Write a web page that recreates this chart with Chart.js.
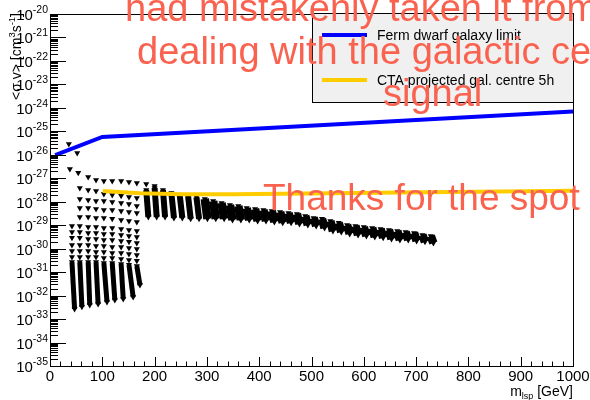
<!DOCTYPE html>
<html lang="en">
<head>
    <meta charset="UTF-8">
    <title>sigma v limits vs m_lsp</title>
    <script src="https://cdn.jsdelivr.net/npm/chart.js"></script>
    <style>
        html, body { margin: 0; padding: 0; background: #fff; }
        #wrap { width: 590px; height: 400px; }
    </style>
</head>
<body>
<div id="wrap"><canvas id="limitChart" width="590" height="400"></canvas></div>
<script>
// all values are log10(<sigma v> / cm^3 s^-1), masses in GeV
const fermiMass = [10, 100, 1000];
const fermiLog = [-26.01, -25.24, -24.15];

const ctaMass = [101, 172, 254, 350, 535, 1000];
const ctaLog = [-27.54, -27.64, -27.68, -27.68, -27.64, -27.53];

// loose scan points sitting above the columns
const extraMass = [36, 52, 38, 54, 184, 200];
const extraLog = [-25.54, -25.92, -26.60, -26.77, -27.24, -27.33];

// low mass columns: separate points, then a dense run to the bottom
const colMass = [42, 57, 73, 88, 103, 119, 136, 151, 166];
const colMassLow = [47, 61, 76, 92, 109, 124, 140, 159, 172];
const colPoints = [
    [-29.03, -29.29, -29.54, -29.84, -30.10, -30.35],
    [-27.41, -27.88, -28.27, -28.65, -29.03, -29.29, -29.54, -29.84, -30.10, -30.35],
    [-26.95, -27.50, -27.93, -28.27, -28.65, -29.08, -29.33, -29.59, -29.84, -30.10, -30.35],
    [-27.07, -27.54, -27.97, -28.31, -28.69, -29.08, -29.33, -29.59, -29.89, -30.14, -30.35],
    [-27.12, -27.67, -27.97, -28.35, -28.69, -29.12, -29.37, -29.63, -29.89, -30.14, -30.40],
    [-27.12, -27.71, -28.01, -28.35, -28.73, -29.12, -29.37, -29.63, -29.93, -30.18, -30.40],
    [-27.12, -27.75, -28.05, -28.39, -28.78, -29.16, -29.42, -29.67, -29.93, -30.18, -30.44],
    [-27.16, -27.80, -28.10, -28.44, -28.82, -29.20, -29.46, -29.71, -29.97, -30.23, -30.48],
    [-27.20, -27.84, -28.18, -28.48, -28.86, -29.25, -29.50, -29.76, -30.01, -30.27, -30.52]
];
const colDenseTop = [-30.57, -30.57, -30.57, -30.57, -30.61, -30.61, -30.65, -30.69, -30.74];
const colDenseBottom = [-32.57, -32.48, -32.40, -32.36, -32.27, -32.19, -32.14, -32.06, -31.55];

// high mass band, one short slanted column per mass
const bandMass = [184, 200, 216, 232, 248, 264, 280, 296, 312, 328, 344, 360, 376, 392, 408, 424, 440, 456,
    472, 488, 504, 520, 536, 552, 568, 584, 600, 616, 632, 648, 664, 680, 696, 712, 728];
const bandMassLow = [188, 204, 220, 237, 253, 269, 285, 301, 317, 333, 349, 365, 381, 397, 413, 429, 445, 461,
    477, 493, 509, 525, 541, 557, 573, 589, 605, 621, 637, 653, 669, 685, 701, 717, 733];
const bandTop = [-27.50, -27.41, -27.50, -27.63, -27.71, -27.75, -27.80, -27.88, -27.97, -28.05, -28.14, -28.18,
    -28.27, -28.31, -28.35, -28.39, -28.44, -28.48, -28.52, -28.61, -28.69, -28.73, -28.82, -28.90, -28.99,
    -29.03, -29.08, -29.12, -29.16, -29.20, -29.25, -29.29, -29.33, -29.42, -29.46];
const bandBottom = [-28.65, -28.65, -28.65, -28.69, -28.69, -28.73, -28.73, -28.73, -28.73, -28.73, -28.78, -28.78,
    -28.78, -28.82, -28.82, -28.86, -28.90, -28.90, -28.95, -28.99, -29.03, -29.12, -29.25, -29.29, -29.37,
    -29.42, -29.46, -29.50, -29.54, -29.59, -29.63, -29.63, -29.67, -29.71, -29.76];

const yDecades = [-35, -34, -33, -32, -31, -30, -29, -28, -27, -26, -25, -24, -23, -22, -21, -20];
const xLabels = [0, 100, 200, 300, 400, 500, 600, 700, 800, 900, 1000];

const legendNames = ['Ferm dwarf galaxy limit', 'CTA projected gal. centre 5h'];
const noteLines = ['had mistakenly taken it from', 'dealing with the galactic centre', 'signal', 'Thanks for the spot'];

const FONT = '"Liberation Sans", Arial, Helvetica, sans-serif';
const pow = e => Math.pow(10, e);
const pts = (ms, ls) => ms.map((m, i) => ({ x: m, y: pow(ls[i]) }));

const marker = {
    pointStyle: 'triangle',
    pointRotation: 180,
    pointRadius: 3.5,
    pointBackgroundColor: '#000',
    pointBorderWidth: 0,
    pointHoverRadius: 3.5
};

const scatterPts = [];
colMass.forEach((m, i) => colPoints[i].forEach(e => scatterPts.push({ x: m, y: pow(e) })));
extraMass.forEach((m, i) => scatterPts.push({ x: m, y: pow(extraLog[i]) }));

const datasets = [
    { data: pts(fermiMass, fermiLog), showLine: true, borderColor: '#0000ff', borderWidth: 4, pointRadius: 0 },
    { data: pts(ctaMass, ctaLog), showLine: true, borderColor: '#ffcc00', borderWidth: 4, pointRadius: 0 },
    Object.assign({ data: scatterPts, showLine: false }, marker)
];
colMass.forEach((m, i) => {
    datasets.push(Object.assign({
        data: [{ x: m, y: pow(colDenseTop[i]) }, { x: colMassLow[i], y: pow(colDenseBottom[i]) }],
        showLine: true, borderColor: '#000', borderWidth: 5
    }, marker));
});
bandMass.forEach((m, i) => {
    // streaks are apart at low mass, they merge into one band further right
    datasets.push(Object.assign({
        data: [{ x: m, y: pow(bandTop[i]) }, { x: bandMassLow[i], y: pow(bandBottom[i]) }],
        showLine: true, borderColor: '#000', borderWidth: m < 290 ? 6 : 8.5
    }, marker));
});

// draw a row of text pieces [text, size, raise] starting at x along the baseline
function runs(ctx, parts, x, y) {
    parts.forEach(p => {
        ctx.font = p[1] + 'px ' + FONT;
        ctx.fillText(p[0], x, y + (p[2] || 0));
        x += ctx.measureText(p[0]).width;
    });
    return x;
}
function runsWidth(ctx, parts) {
    let w = 0;
    parts.forEach(p => { ctx.font = p[1] + 'px ' + FONT; w += ctx.measureText(p[0]).width; });
    return w;
}

const rootFrame = {
    id: 'rootFrame',
    afterDatasetsDraw(chart) {
        const ctx = chart.ctx;
        const a = chart.chartArea;
        const xs = chart.scales.x, ys = chart.scales.y;
        ctx.save();
        ctx.strokeStyle = '#000';
        ctx.fillStyle = '#000';
        ctx.lineWidth = 1;
        ctx.strokeRect(a.left + 0.5, a.top + 0.5, a.right - a.left, a.bottom - a.top);

        // y ticks, inside, with 2..9 minor ticks
        ctx.beginPath();
        yDecades.forEach(e => {
            const py = Math.round(ys.getPixelForValue(pow(e))) + 0.5;
            ctx.moveTo(a.left, py); ctx.lineTo(a.left + 16, py);
            if (e < -20) {
                for (let k = 2; k <= 9; k++) {
                    const q = Math.round(ys.getPixelForValue(k * pow(e))) + 0.5;
                    ctx.moveTo(a.left, q); ctx.lineTo(a.left + 8, q);
                }
            }
        });
        // x ticks every 20, long ones every 100
        for (let m = 0; m <= 1000; m += 20) {
            const px = Math.round(xs.getPixelForValue(m)) + 0.5;
            const len = m % 100 === 0 ? 9 : 4.5;
            ctx.moveTo(px, a.bottom); ctx.lineTo(px, a.bottom - len);
        }
        ctx.stroke();

        // y labels 10^n
        ctx.textAlign = 'left';
        ctx.textBaseline = 'alphabetic';
        yDecades.forEach(e => {
            const py = ys.getPixelForValue(pow(e));
            const parts = [['10', 15, 0], [String(e), 10.5, -7]];
            const w = runsWidth(ctx, parts);
            runs(ctx, parts, 48 - w, py + 6);
        });
        // x labels
        ctx.font = '15px ' + FONT;
        ctx.textAlign = 'center';
        xLabels.forEach(m => ctx.fillText(String(m), xs.getPixelForValue(m), 381));

        // x title
        ctx.textAlign = 'left';
        const xt = [['m', 14, 0], ['lsp', 9, 3], [' [GeV]', 14, 0]];
        runs(ctx, xt, a.right - runsWidth(ctx, xt), 396);

        // y title, rotated
        const yt = [['<\u03c3 v> [cm', 14, 0], ['3', 9.5, -6], ['s', 14, 0], ['-1', 9.5, -6], [']', 14, 0]];
        ctx.translate(21, 13 + runsWidth(ctx, yt));
        ctx.rotate(-Math.PI / 2);
        runs(ctx, yt, 0, 0);
        ctx.restore();

        // legend box
        ctx.save();
        ctx.fillStyle = '#f0f0f0';
        ctx.fillRect(312, 13, 261, 89);
        ctx.strokeStyle = '#000';
        ctx.lineWidth = 1;
        ctx.strokeRect(312.5, 13.5, 261, 89);
        [['#0000ff', 35], ['#ffcc00', 80]].forEach((s, i) => {
            ctx.strokeStyle = s[0];
            ctx.lineWidth = 4;
            ctx.beginPath();
            ctx.moveTo(322, s[1]); ctx.lineTo(367, s[1]);
            ctx.stroke();
            ctx.fillStyle = '#000';
            ctx.font = '14px ' + FONT;
            ctx.fillText(legendNames[i], 377, s[1] + 5);
        });
        ctx.restore();
    },
    afterDraw(chart) {
        // red note written over the plot
        const ctx = chart.ctx;
        ctx.save();
        ctx.fillStyle = 'rgb(250, 98, 80)';
        ctx.textAlign = 'left';
        ctx.font = '38px ' + FONT;
        ctx.fillText(noteLines[0], 125, 21);
        ctx.fillText(noteLines[1], 137, 64);
        ctx.fillText(noteLines[2], 383, 106);
        ctx.font = '37px ' + FONT;
        ctx.fillText(noteLines[3], 263, 210);
        ctx.restore();
    }
};

new Chart(document.getElementById('limitChart').getContext('2d'), {
    type: 'scatter',
    data: { datasets: datasets },
    options: {
        responsive: false,
        animation: false,
        devicePixelRatio: 1,
        layout: { padding: { left: 50, top: 14, right: 17, bottom: 34 } },
        scales: {
            x: { type: 'linear', min: 0, max: 1000, display: false },
            y: { type: 'logarithmic', min: 1e-35, max: 1e-20, display: false }
        },
        plugins: { legend: { display: false }, tooltip: { enabled: false } }
    },
    plugins: [rootFrame]
});
</script>
</body>
</html>
